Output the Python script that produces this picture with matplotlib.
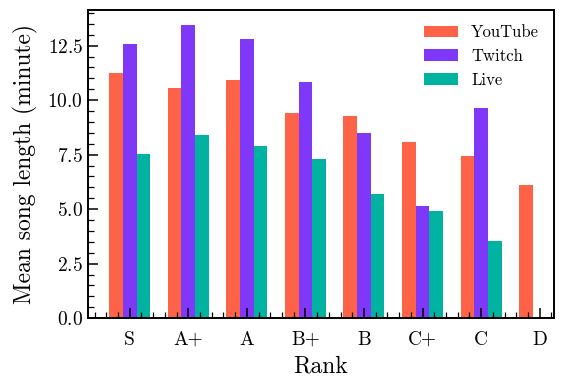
#!/usr/bin/env python3
"""
Mean song length per rank, grouped bars
"""

import matplotlib
matplotlib.use("Agg")
import matplotlib.pyplot as plt
import numpy as np
from matplotlib.ticker import AutoMinorLocator, MultipleLocator

ranks = ["S", "A+", "A", "B+", "B", "C+", "C", "D"]
youtube = [11.26, 10.58, 10.94, 9.43, 9.25, 8.10, 7.42, 6.09]
twitch = [12.59, 13.46, 12.82, 10.85, 8.47, 5.13, 9.66]
live = [7.51, 8.38, 7.88, 7.28, 5.68, 4.90, 3.53]

colors = {
	"YouTube": "#ff6347",
	"Twitch": "#7f38f8",
	"Live": "#00b3a0",
}


def main():
	plt.rcParams["font.family"] = ["cmr10", "DejaVu Serif"]
	plt.rcParams["axes.formatter.use_mathtext"] = True
	plt.rcParams["mathtext.fontset"] = "cm"

	fig, ax = plt.subplots(figsize=(5.62, 3.87), dpi=100)
	fig.subplots_adjust(left=0.1566, right=0.9858, bottom=0.178, top=0.974)

	width = 0.7 / 3
	x = np.arange(len(ranks))

	ax.bar(x - width, youtube, width, color=colors["YouTube"], label="YouTube")
	ax.bar(x[:len(twitch)], twitch, width, color=colors["Twitch"], label="Twitch")
	ax.bar(x[:len(live)] + width, live, width, color=colors["Live"], label="Live")

	ax.set_xticks(x)
	ax.set_xticklabels(ranks)
	ax.yaxis.set_major_locator(MultipleLocator(2.5))
	ax.yaxis.set_minor_locator(AutoMinorLocator(5))
	ax.xaxis.set_minor_locator(AutoMinorLocator(5))

	ax.tick_params(which="both", direction="in", labelsize=14)
	ax.tick_params(which="major", length=7, width=1.1)
	ax.tick_params(which="minor", length=4, width=0.9)
	ax.tick_params(axis="x", which="major", pad=9)

	for spine in ax.spines.values():
		spine.set_linewidth(1.4)

	ax.set_xlabel("Rank", fontsize=17, labelpad=5)
	ax.set_ylabel("Mean song length (minute)", fontsize=17, labelpad=7)

	ax.legend(frameon=False, fontsize=12, loc="upper right")

	fig.savefig("out.png", dpi=100)


if __name__ == "__main__":
	main()
